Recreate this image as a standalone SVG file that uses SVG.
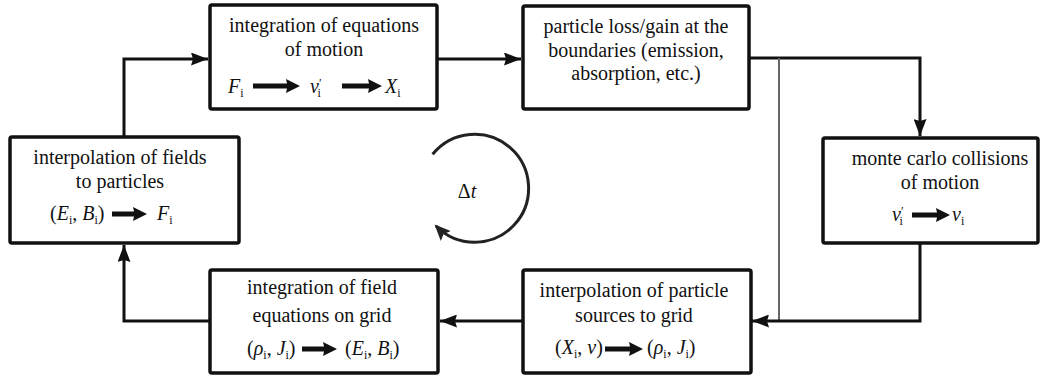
<svg xmlns="http://www.w3.org/2000/svg" width="1042" height="376" viewBox="0 0 1042 376">
<style>
.t{font-family:'Liberation Serif','Times New Roman',serif;font-size:20px;fill:#111;text-anchor:middle}
.m{font-family:'Liberation Serif','Times New Roman',serif;font-size:20px;fill:#111}
.box{fill:#fff;stroke:#111;stroke-width:3.5}
.it{font-style:italic}
.sub{font-size:12px}
.ln{fill:none;stroke:#111;stroke-width:3}
.ba{fill:#111}
</style>
<defs>
<marker id="ah" markerUnits="userSpaceOnUse" markerWidth="18" markerHeight="13" refX="17" refY="6.5" orient="auto">
<path d="M0,0 L17,6.5 L0,13 L2,6.5 z" fill="#111"/>
</marker>
<marker id="ah2" markerUnits="userSpaceOnUse" markerWidth="18" markerHeight="14" refX="14" refY="7" orient="auto">
<path d="M0,0 L16,7 L0,14 L3,7 z" fill="#222"/>
</marker>
</defs>
<g id="connectors">
<path class="ln" d="M437,59 L521,59" marker-end="url(#ah)"/>
<path class="ln" d="M749,58 L920,58 L920,136" marker-end="url(#ah)"/>
<path d="M779,58 L779,321" fill="none" stroke="#666" stroke-width="2"/>
<path class="ln" d="M920,243 L920,321 L752,321" marker-end="url(#ah)"/>
<path class="ln" d="M523,321 L440,321" marker-end="url(#ah)"/>
<path class="ln" d="M210,321 L124,321 L124,245" marker-end="url(#ah)"/>
<path class="ln" d="M124,137 L124,59 L208,59" marker-end="url(#ah)"/>
<path d="M432.6,154.3 A54,54 0 1 1 436,226" fill="none" stroke="#222" stroke-width="3" marker-end="url(#ah2)"/>
</g>
<g id="dt">
<text class="t" x="467" y="198"><tspan>Δ</tspan><tspan class="it">t</tspan></text>
</g>
<g id="n1">
<rect class="box" x="210" y="5" width="227" height="104" rx="2"/>
<text class="t" x="324" y="32">integration of equations</text>
<text class="t" x="324" y="56">of motion</text>
<text class="m it" x="228" y="93">F<tspan class="sub" dy="4" font-style="normal">i</tspan></text>
<path class="ba" d="M253,83.5 L287,83.5 L286,79 L300,86 L286,93 L287,88.5 L253,88.5 z"/>
<text class="m it" x="310" y="93">v<tspan class="sub" dy="-6" font-style="normal">′</tspan><tspan class="sub" dx="-4" dy="10" font-style="normal">i</tspan></text>
<path class="ba" d="M342,83.5 L369,83.5 L368,79 L382,86 L368,93 L369,88.5 L342,88.5 z"/>
<text class="m it" x="385" y="93">X<tspan class="sub" dy="4" font-style="normal">i</tspan></text>
</g>
<g id="n2">
<rect class="box" x="523" y="6" width="226" height="103" rx="2"/>
<text class="t" x="636" y="33">particle loss/gain at the</text>
<text class="t" x="636" y="57">boundaries (emission,</text>
<text class="t" x="636" y="80">absorption, etc.)</text>
</g>
<g id="n3">
<rect class="box" x="10" y="137" width="229" height="106" rx="2"/>
<text class="t" x="120" y="164">interpolation of fields</text>
<text class="t" x="120" y="188">to particles</text>
<text class="m" x="50" y="220">(<tspan class="it">E</tspan><tspan class="sub" dy="4">i</tspan><tspan dy="-4">, </tspan><tspan class="it">B</tspan><tspan class="sub" dy="4">i</tspan><tspan dy="-4">)</tspan></text>
<path class="ba" d="M112,211.5 L134,211.5 L133,207 L147,214 L133,221 L134,216.5 L112,216.5 z"/>
<text class="m it" x="157" y="220">F<tspan class="sub" dy="4" font-style="normal">i</tspan></text>
</g>
<g id="n4">
<rect class="box" x="823" y="138" width="215" height="105" rx="2"/>
<text class="t" x="940" y="165">monte carlo collisions</text>
<text class="t" x="940" y="189">of motion</text>
<text class="m it" x="892" y="221">v<tspan class="sub" dy="-6" font-style="normal">′</tspan><tspan class="sub" dx="-4" dy="10" font-style="normal">i</tspan></text>
<path class="ba" d="M912,212.5 L937,212.5 L936,208 L950,215 L936,222 L937,217.5 L912,217.5 z"/>
<text class="m it" x="952" y="221">v<tspan class="sub" dy="4" font-style="normal">i</tspan></text>
</g>
<g id="n5">
<rect class="box" x="210" y="270" width="228" height="103" rx="2"/>
<text class="t" x="322" y="294">integration of field</text>
<text class="t" x="322" y="322">equations on grid</text>
<text class="m" x="247" y="355">(<tspan class="it">ρ</tspan><tspan class="sub" dy="4">i</tspan><tspan dy="-4">, </tspan><tspan class="it">J</tspan><tspan class="sub" dy="4">i</tspan><tspan dy="-4">)</tspan></text>
<path class="ba" d="M302,346.5 L324,346.5 L323,342 L337,349 L323,356 L324,351.5 L302,351.5 z"/>
<text class="m" x="345" y="355">(<tspan class="it">E</tspan><tspan class="sub" dy="4">i</tspan><tspan dy="-4">, </tspan><tspan class="it">B</tspan><tspan class="sub" dy="4">i</tspan><tspan dy="-4">)</tspan></text>
</g>
<g id="n6">
<rect class="box" x="523" y="270" width="228" height="103" rx="2"/>
<text class="t" x="634" y="297">interpolation of particle</text>
<text class="t" x="634" y="322">sources to grid</text>
<text class="m" x="555" y="354">(<tspan class="it">X</tspan><tspan class="sub" dy="4">i</tspan><tspan dy="-4">, </tspan><tspan class="it">v</tspan>)</text>
<path class="ba" d="M605,346.5 L630,346.5 L629,342 L643,349 L629,356 L630,351.5 L605,351.5 z"/>
<text class="m" x="647" y="354">(<tspan class="it">ρ</tspan><tspan class="sub" dy="4">i</tspan><tspan dy="-4">, </tspan><tspan class="it">J</tspan><tspan class="sub" dy="4">i</tspan><tspan dy="-4">)</tspan></text>
</g>
</svg>
